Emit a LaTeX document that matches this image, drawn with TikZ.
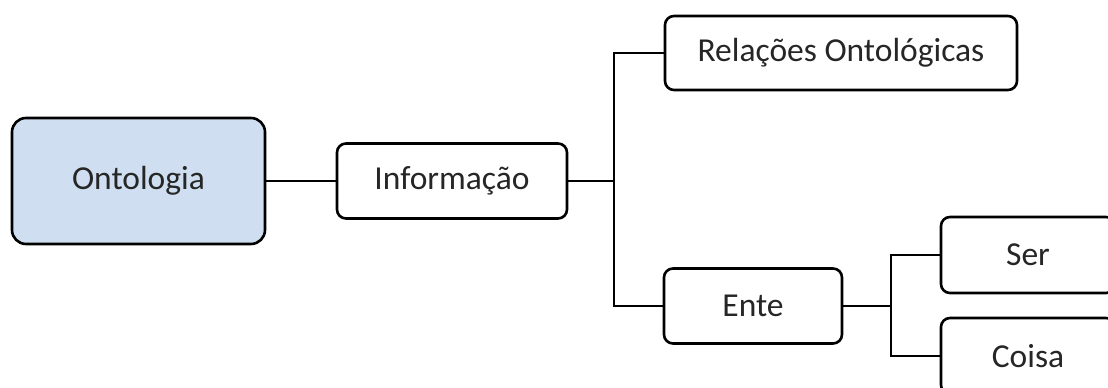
\documentclass[tikz,border=0pt]{standalone}
\usepackage{fontspec}
\setmainfont{Carlito}
\begin{document}
\begin{tikzpicture}[x=1pt,y=-1pt,
  box/.style={draw=black, line width=2.6pt, rounded corners=9pt, fill=white,
    text=black!85, font=\fontsize{33.5}{40}\selectfont, inner sep=0pt},
  root/.style={box, fill=rootblue, rounded corners=14pt},
  link/.style={draw=black, line width=2.4pt}]
\definecolor{rootblue}{HTML}{CFDFF1}
\useasboundingbox (0,0) rectangle (1108,388);
\clip (0,0) rectangle (1108,388);
% nodes
\node[root, minimum width=253pt, minimum height=126pt] (ont) at (138.5,181) {Ontologia};
\node[box, minimum width=230pt, minimum height=75pt] (info) at (452,181) {Informação};
\node[box, minimum width=352pt, minimum height=74pt] (rel) at (841,53) {Relações Ontológicas};
\node[box, minimum width=178pt, minimum height=75pt] (ente) at (753,306) {Ente};
\node[box, minimum width=174pt, minimum height=76pt] (ser) at (1028,255) {Ser};
\node[box, minimum width=174pt, minimum height=76pt] (coisa) at (1028,356) {Coisa};
% junctions
\coordinate (j1) at (614,181);
\coordinate (j2) at (891,306);
% connectors
\draw[link] (ont.east) -- (info.west);
\draw[link] (info.east) -- (j1);
\draw[link] (rel.west) -| (j1) |- (ente.west);
\draw[link] (ente.east) -- (j2);
\draw[link] (ser.west) -| (j2) |- (coisa.west);
\end{tikzpicture}
\end{document}
